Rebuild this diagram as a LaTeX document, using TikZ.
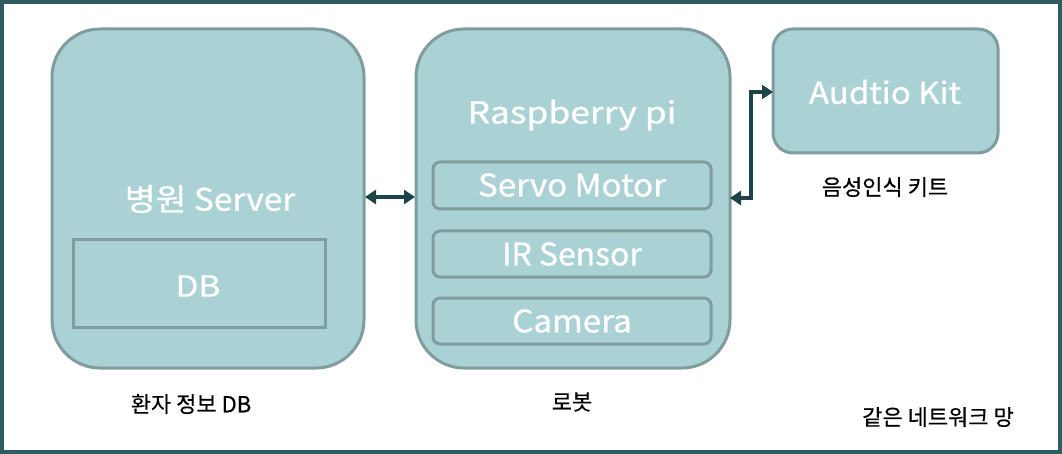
\documentclass[tikz,border=0pt]{standalone}
\usepackage{fontspec}
\usepackage{graphicx}
\setmainfont{Noto Sans CJK KR}
\newfontfamily\wfont{Noto Sans CJK KR}[FakeBold=0.8]
\newfontfamily\bfontk{Noto Sans CJK KR}[FakeBold=0.4]
\usetikzlibrary{arrows.meta}
\definecolor{boxfill}{HTML}{AAD1D4}
\definecolor{boxline}{HTML}{7F9C9E}
\definecolor{arrowc}{HTML}{1F4447}
\definecolor{framec}{HTML}{2E5C61}
\tikzset{
  bigbox/.style={draw=boxline, fill=boxfill, line width=3pt, rounded corners=48pt},
  subbox/.style={draw=boxline, fill=boxfill, line width=3pt, rounded corners=7pt},
  dbbox/.style={draw=boxline, fill=boxfill, line width=3pt},
  kitbox/.style={draw=boxline, fill=boxfill, line width=3pt, rounded corners=20pt},
  wtext/.style={text=white, font=\wfont\fontsize{31}{34}\selectfont, inner sep=0pt},
  btext/.style={text=black, font=\bfontk\fontsize{22}{24}\selectfont, inner sep=0pt},
  conn/.style={draw=arrowc, line width=4pt, {Triangle[length=11pt,width=14pt]}-{Triangle[length=11pt,width=14pt]}},
}
\begin{document}
\begin{tikzpicture}[x=1pt,y=-1pt]
\useasboundingbox (0,0) rectangle (1062,454);
\draw[framec, line width=4pt] (2,2) rectangle (1060,452);
% boxes
\path[bigbox] (52,29) rectangle (364,368);
\node[wtext] (server) at (210,199) {\scalebox{1.08}[1]{병원 Server}};
\path[dbbox] (73,240) rectangle (325,327);
\node[wtext, font=\wfont\fontsize{29}{32}\selectfont] (db) at (198,286) {\scalebox{1.15}[1]{DB}};
\path[bigbox] (416,29) rectangle (730,368);
\node[wtext, font=\wfont\fontsize{30}{33}\selectfont] (rpi) at (572,115) {\scalebox{1.18}[1]{Raspberry pi}};
\path[subbox] (433,162) rectangle (711,209);
\node[wtext] (servo) at (572,185) {\scalebox{1.07}[1]{Servo Motor}};
\path[subbox] (433,231) rectangle (711,277);
\node[wtext] (ir) at (572,254) {\scalebox{1.03}[1]{IR Sensor}};
\path[subbox] (433,298) rectangle (711,344);
\node[wtext] (cam) at (572,321) {\scalebox{1.07}[1]{Camera}};
\path[kitbox] (773,29) rectangle (998,153);
\node[wtext, font=\wfont\fontsize{30}{33}\selectfont] (kit) at (885,92) {\scalebox{1.1}[1]{Audtio Kit}};
% named anchors for connectors
\coordinate (sR) at (365,197);
\coordinate (rL) at (415,197);
\coordinate (rR) at (730,198);
\coordinate (kL) at (773,92);
\draw[conn] (sR) -- (rL);
\draw[conn] (rR) -| (751,92) -- (kL);
% labels
\node[btext] (l1) at (191,404) {환자 정보 DB};
\node[btext] (l2) at (572,402) {로봇};
\node[btext] (l3) at (885,187) {음성인식 키트};
\node[btext] (l4) at (938,417) {같은 네트워크 망};
\end{tikzpicture}
\end{document}
